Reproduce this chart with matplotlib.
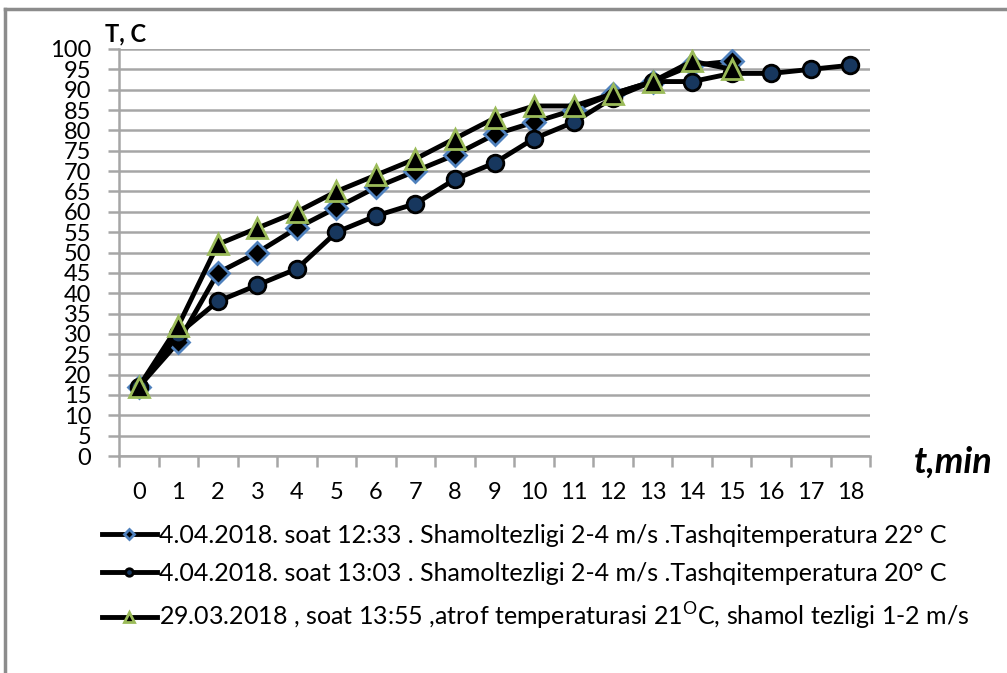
import numpy as np
import matplotlib
matplotlib.use('Agg')
from matplotlib import pyplot as plt
from matplotlib.lines import Line2D

plt.rcParams['font.family'] = ['Lato', 'DejaVu Sans']
plt.rcParams['mathtext.fontset'] = 'custom'
plt.rcParams['mathtext.rm'] = 'Lato'

# time, min
t1 = list(range(16))
t2 = list(range(19))
t3 = list(range(16))

# temperature, C
temp1 = [17, 28, 45, 50, 56, 61, 66, 70, 74, 79, 82, 85, 89, 92, 96, 97]
temp2 = [17, 30, 38, 42, 46, 55, 59, 62, 68, 72, 78, 82, 88, 92, 92, 94, 94, 95, 96]
temp3 = [17, 32, 52, 56, 60, 65, 69, 73, 78, 83, 86, 86, 89, 92, 97, 95]

labels = [
    '4.04.2018. soat 12:33 . Shamoltezligi 2-4 m/s .Tashqitemperatura 22° C',
    '4.04.2018. soat 13:03 . Shamoltezligi 2-4 m/s .Tashqitemperatura 20° C',
    '29.03.2018 , soat 13:55 ,atrof temperaturasi 21$^{\\mathrm{O}}$C, shamol tezligi 1-2 m/s',
]

fig = plt.figure(figsize=(10.07, 6.73), dpi=100)
ax = fig.add_axes([0.1182, 0.3224, 0.864 - 0.1182, 0.9272 - 0.3224])

grid_c = '#a6a6a6'
ax.set_ylim(0, 100)
ax.set_xlim(-0.5, 18.5)
ax.set_yticks(np.arange(0, 101, 5))
ax.set_xticks(range(19))
ax.yaxis.grid(True, color=grid_c, lw=1.8)
ax.set_axisbelow(True)
for s in ['top', 'right']:
    ax.spines[s].set_visible(False)
for s in ['left', 'bottom']:
    ax.spines[s].set_color(grid_c)
    ax.spines[s].set_linewidth(1.8)
ax.tick_params(axis='y', length=8, width=1.8, color=grid_c, labelsize=17, pad=12)
ax.tick_params(axis='x', length=0, labelsize=17, pad=19)
# category boundary ticks on x axis
ax.set_xticks(np.arange(-0.5, 19, 1), minor=True)
ax.tick_params(axis='x', which='minor', length=8, width=1.8, color=grid_c)

ax.plot(t1, temp1, color='black', lw=3.5, marker='D', ms=11, mfc='black',
        mec='#4f81bd', mew=2, label=labels[0], zorder=3)
ax.plot(t2, temp2, color='black', lw=3.5, marker='o', ms=12, mfc='#17375e',
        mec='black', mew=2, label=labels[1], zorder=4)
ax.plot(t3, temp3, color='black', lw=3.5, marker='^', ms=15, mfc='black',
        mec='#9bbb59', mew=2, label=labels[2], zorder=5)

fig.text(0.104, 0.938, 'T, C', fontsize=17, fontweight='bold')
fig.text(0.908, 0.298, 't,min', fontsize=26, fontweight='bold', style='italic')

leg = fig.legend(loc='upper left', bbox_to_anchor=(0.101, 0.222), frameon=False,
                 fontsize=18, markerscale=0.45, handlelength=2.2, handletextpad=0.1,
                 labelspacing=0.62, borderaxespad=0, borderpad=0)

# frame lines around the picture
fig.add_artist(Line2D([0.005, 0.005], [0.0, 0.987], color='#8c8c8c', lw=2.5))
fig.add_artist(Line2D([0.005, 1.0], [0.987, 0.987], color='#8c8c8c', lw=2.5))

fig.savefig('out.png', dpi=100)
